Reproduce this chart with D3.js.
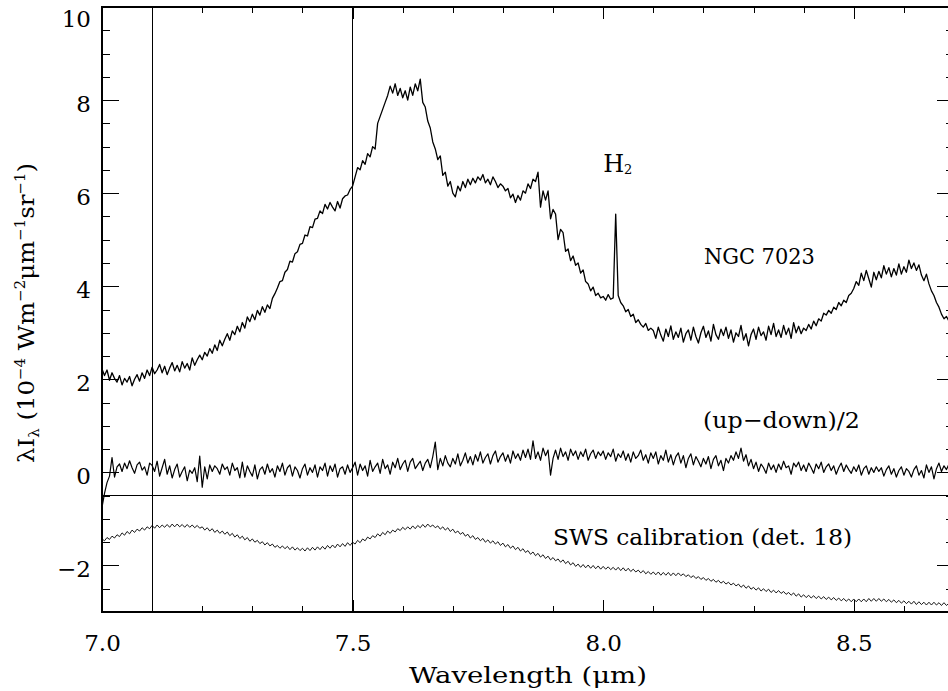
<!DOCTYPE html>
<html>
<head>
<meta charset="utf-8">
<script src="https://cdn.jsdelivr.net/npm/d3@7"></script>
<style>
  body { margin: 0; background: #fff; }
  svg { display: block; }
  text { font-family: "DejaVu Serif", serif; fill: #000; }
</style>
</head>
<body>
<svg id="chart" width="948" height="691"></svg>
<script>
// wavelength grid of the spectra (um): 7.000 ... 8.700, one value every 0.005
const wlStart = 7.0;
const wlStep = 0.005;

// NGC 7023 spectrum, 10^-4 W m^-2 um^-1 sr^-1
const ngc7023 = [
  2.22, 2.08, 2.20, 1.98, 2.14, 2.02, 1.94, 2.08, 1.88, 2.02,
  1.94, 2.06, 1.86, 2.00, 2.10, 1.96, 2.14, 2.02, 2.20, 2.08,
  2.26, 2.12, 2.20, 2.32, 2.14, 2.28, 2.10, 2.24, 2.36, 2.18,
  2.30, 2.16, 2.38, 2.24, 2.34, 2.20, 2.46, 2.30, 2.42, 2.52,
  2.42, 2.58, 2.50, 2.66, 2.56, 2.74, 2.62, 2.84, 2.72, 2.86,
  2.98, 2.84, 3.04, 2.96, 3.14, 3.02, 3.22, 3.10, 3.34, 3.24,
  3.40, 3.28, 3.48, 3.38, 3.56, 3.44, 3.60, 3.52, 3.74, 3.84,
  3.96, 4.10, 4.12, 4.30, 4.36, 4.54, 4.52, 4.70, 4.74, 4.90,
  4.92, 5.10, 5.08, 5.28, 5.26, 5.44, 5.46, 5.62, 5.56, 5.76,
  5.66, 5.80, 5.70, 5.62, 5.82, 5.68, 5.88, 5.94, 5.96, 6.08,
  6.15, 6.35, 6.55, 6.50, 6.70, 6.62, 6.85, 6.78, 7.00, 6.95,
  7.50, 7.65, 7.80, 7.95, 8.10, 8.30, 8.15, 8.35, 8.10, 8.25,
  8.05, 8.20, 8.00, 8.28, 8.10, 8.35, 8.20, 8.45, 7.95, 7.85,
  7.55, 7.40, 7.10, 6.95, 6.72, 6.80, 6.38, 6.45, 6.15, 6.25,
  6.00, 5.92, 6.15, 6.05, 6.25, 6.12, 6.30, 6.18, 6.32, 6.22,
  6.35, 6.28, 6.40, 6.22, 6.30, 6.18, 6.35, 6.25, 6.12, 6.20,
  6.15, 6.05, 6.10, 5.90, 5.98, 5.80, 5.95, 5.85, 6.05, 6.00,
  6.20, 6.10, 6.30, 6.25, 6.45, 5.70, 6.05, 5.85, 6.05, 5.45,
  5.65, 5.55, 5.00, 5.22, 5.15, 4.75, 4.80, 4.55, 4.65, 4.45,
  4.50, 4.28, 4.35, 4.10, 4.05, 3.90, 3.98, 3.80, 3.85, 3.75,
  3.78, 3.70, 3.82, 3.72, 3.75, 5.55, 3.80, 3.65, 3.58, 3.45,
  3.50, 3.35, 3.40, 3.22, 3.28, 3.18, 3.12, 3.20, 3.05, 3.10,
  3.05, 2.88, 3.12, 2.95, 2.82, 3.08, 2.92, 3.15, 2.86, 3.02,
  2.90, 3.10, 2.80, 2.98, 3.06, 2.84, 3.12, 2.92, 2.78, 3.00,
  3.14, 2.90, 3.04, 2.82, 3.18, 2.96, 2.86, 3.08, 2.94, 3.12,
  2.88, 3.06, 2.80, 3.00, 2.92, 3.16, 2.84, 2.98, 2.72, 2.96,
  3.08, 2.86, 3.12, 2.94, 3.02, 2.84, 3.14, 2.96, 3.20, 2.92,
  3.06, 2.90, 3.16, 2.96, 3.10, 2.88, 3.22, 3.00, 3.14, 2.98,
  3.10, 3.05, 3.18, 3.08, 3.25, 3.15, 3.30, 3.25, 3.42, 3.38,
  3.48, 3.42, 3.55, 3.50, 3.65, 3.58, 3.70, 3.65, 3.80, 3.85,
  3.95, 4.10, 4.02, 4.28, 4.12, 4.34, 4.16, 3.98, 4.30, 4.14,
  4.32, 4.18, 4.44, 4.26, 4.40, 4.20, 4.38, 4.24, 4.48, 4.26,
  4.42, 4.30, 4.56, 4.38, 4.50, 4.34, 4.46, 4.24, 4.12, 4.26,
  4.05, 3.90, 3.80, 3.65, 3.55, 3.40, 3.30, 3.35, 3.25, 3.30,
  3.28
];

// (up-down)/2 difference spectrum
const upDown = [
  -0.75, -0.45, -0.22, -0.08, 0.32, -0.10, 0.12, 0.18, 0.02, 0.20,
  0.08, 0.25, 0.10, -0.02, 0.16, 0.22, 0.05, 0.12, -0.06, 0.20,
  0.15, 0.02, 0.24, -0.08, 0.10, 0.28, -0.04, 0.14, -0.12, 0.06,
  0.18, -0.10, 0.02, 0.12, -0.18, 0.05, -0.02, 0.10, -0.20, 0.35,
  -0.32, 0.12, -0.14, 0.16, 0.02, 0.14, 0.08, -0.04, 0.18, 0.06,
  0.12, -0.06, 0.20, 0.04, 0.10, -0.12, 0.22, -0.10, 0.14, 0.02,
  -0.08, 0.16, -0.14, 0.06, 0.12, -0.04, 0.18, 0.00, 0.08, -0.10,
  0.14, 0.02, 0.20, -0.06, 0.10, 0.16, -0.08, 0.12, 0.04, -0.12,
  0.08, 0.18, -0.06, 0.10, 0.00, 0.16, -0.10, 0.12, 0.04, 0.20,
  -0.08, 0.14, 0.02, 0.18, -0.10, 0.08, 0.12, -0.04, 0.16, 0.00,
  0.10, 0.22, -0.06, 0.18, 0.04, 0.14, -0.08, 0.26, 0.02, 0.12,
  0.20, -0.02, 0.28, 0.08, 0.16, -0.04, 0.22, 0.10, 0.30, 0.06,
  0.18, 0.26, 0.02, 0.22, 0.30, 0.08, 0.16, 0.24, 0.04, 0.20,
  0.28, 0.10, 0.34, 0.65, 0.06, 0.30, 0.14, 0.36, 0.20, 0.12,
  0.30, 0.18, 0.40, 0.14, 0.26, 0.42, 0.20, 0.34, 0.16, 0.38,
  0.24, 0.44, 0.20, 0.32, 0.40, 0.18, 0.36, 0.46, 0.22, 0.34,
  0.42, 0.24, 0.38, 0.20, 0.46, 0.30, 0.40, 0.26, 0.48, 0.32,
  0.50, 0.28, 0.68, 0.30, 0.44, 0.26, 0.52, 0.36, 0.48, -0.06,
  0.30, 0.48, 0.28, 0.52, 0.34, 0.44, 0.26, 0.50, 0.36, 0.46,
  0.28, 0.44, 0.34, 0.50, 0.26, 0.40, 0.48, 0.30, 0.44, 0.36,
  0.46, 0.28, 0.42, 0.34, 0.50, 0.24, 0.40, 0.32, 0.46, 0.26,
  0.40, 0.22, 0.44, 0.30, 0.36, 0.48, 0.26, 0.38, 0.20, 0.42,
  0.30, 0.44, 0.18, 0.36, 0.26, 0.48, 0.22, 0.38, 0.16, 0.34,
  0.42, 0.20, 0.36, 0.10, 0.30, 0.40, 0.16, 0.34, 0.24, 0.12,
  0.30, 0.18, 0.34, 0.08, 0.28, 0.36, 0.14, 0.26, 0.04, 0.30,
  0.20, 0.36, 0.26, 0.44, 0.30, 0.52, 0.24, 0.38, 0.14, 0.28,
  0.08, 0.22, 0.02, 0.18, 0.10, -0.02, 0.20, 0.06, 0.16, 0.00,
  0.18, 0.06, 0.24, 0.10, 0.14, -0.04, 0.20, 0.12, 0.22, 0.04,
  0.16, 0.02, 0.20, 0.10, -0.02, 0.18, 0.08, 0.22, 0.00, 0.12,
  0.18, 0.04, 0.14, -0.04, 0.10, 0.20, 0.02, 0.16, 0.06, -0.02,
  0.12, 0.02, 0.16, -0.06, 0.08, 0.14, -0.04, 0.10, 0.00, 0.12,
  0.02, 0.10, -0.08, 0.06, 0.14, -0.04, 0.08, -0.10, 0.04, 0.12,
  -0.06, 0.08, 0.02, -0.10, 0.06, 0.14, -0.06, 0.04, -0.12, 0.16,
  0.00, 0.12, -0.14, 0.08, 0.20, 0.02, 0.14, 0.06, 0.18, 0.04,
  0.10
];

// SWS calibration (det. 18), shifted and scaled as in the plot
const swsCal = [
  -1.43, -1.47, -1.40, -1.44, -1.37, -1.41, -1.34, -1.38, -1.30, -1.35,
  -1.27, -1.32, -1.24, -1.29, -1.22, -1.26, -1.19, -1.24, -1.17, -1.21,
  -1.14, -1.20, -1.13, -1.19, -1.13, -1.18, -1.12, -1.18, -1.11, -1.17,
  -1.11, -1.17, -1.12, -1.18, -1.12, -1.18, -1.13, -1.19, -1.14, -1.20,
  -1.17, -1.24, -1.19, -1.26, -1.21, -1.29, -1.24, -1.31, -1.26, -1.33,
  -1.28, -1.36, -1.31, -1.39, -1.34, -1.42, -1.37, -1.45, -1.40, -1.48,
  -1.43, -1.50, -1.46, -1.53, -1.49, -1.56, -1.51, -1.58, -1.54, -1.61,
  -1.57, -1.63, -1.58, -1.64, -1.59, -1.66, -1.60, -1.67, -1.62, -1.68,
  -1.63, -1.69, -1.62, -1.68, -1.61, -1.67, -1.60, -1.66, -1.59, -1.65,
  -1.57, -1.63, -1.56, -1.62, -1.54, -1.60, -1.53, -1.59, -1.51, -1.57,
  -1.50, -1.54, -1.46, -1.51, -1.43, -1.47, -1.39, -1.43, -1.36, -1.40,
  -1.32, -1.37, -1.29, -1.34, -1.26, -1.31, -1.24, -1.28, -1.21, -1.25,
  -1.18, -1.23, -1.17, -1.22, -1.15, -1.21, -1.14, -1.19, -1.12, -1.18,
  -1.11, -1.17, -1.13, -1.19, -1.15, -1.22, -1.17, -1.24, -1.19, -1.27,
  -1.22, -1.30, -1.26, -1.33, -1.29, -1.37, -1.33, -1.41, -1.36, -1.44,
  -1.40, -1.47, -1.42, -1.50, -1.45, -1.52, -1.47, -1.54, -1.49, -1.57,
  -1.52, -1.60, -1.55, -1.63, -1.58, -1.66, -1.61, -1.69, -1.64, -1.72,
  -1.68, -1.76, -1.71, -1.79, -1.74, -1.82, -1.77, -1.85, -1.80, -1.88,
  -1.83, -1.90, -1.86, -1.93, -1.88, -1.96, -1.91, -1.99, -1.94, -2.02,
  -1.97, -2.04, -1.98, -2.05, -1.99, -2.06, -2.00, -2.07, -2.01, -2.08,
  -2.02, -2.08, -2.03, -2.09, -2.04, -2.10, -2.04, -2.11, -2.05, -2.12,
  -2.06, -2.13, -2.08, -2.14, -2.10, -2.16, -2.11, -2.18, -2.13, -2.19,
  -2.14, -2.20, -2.14, -2.21, -2.15, -2.21, -2.15, -2.22, -2.16, -2.22,
  -2.16, -2.22, -2.18, -2.24, -2.20, -2.26, -2.22, -2.28, -2.24, -2.30,
  -2.26, -2.32, -2.28, -2.34, -2.30, -2.36, -2.32, -2.38, -2.34, -2.40,
  -2.36, -2.42, -2.38, -2.44, -2.40, -2.47, -2.42, -2.49, -2.44, -2.51,
  -2.47, -2.53, -2.48, -2.55, -2.50, -2.56, -2.51, -2.58, -2.53, -2.59,
  -2.54, -2.60, -2.56, -2.62, -2.58, -2.64, -2.59, -2.66, -2.61, -2.68,
  -2.63, -2.69, -2.64, -2.70, -2.65, -2.71, -2.66, -2.72, -2.67, -2.73,
  -2.68, -2.74, -2.69, -2.75, -2.70, -2.76, -2.71, -2.77, -2.72, -2.78,
  -2.72, -2.78, -2.72, -2.78, -2.72, -2.78, -2.71, -2.77, -2.71, -2.77,
  -2.71, -2.77, -2.72, -2.78, -2.73, -2.79, -2.74, -2.80, -2.75, -2.81,
  -2.76, -2.82, -2.77, -2.83, -2.77, -2.84, -2.78, -2.84, -2.79, -2.85,
  -2.79, -2.85, -2.79, -2.85, -2.80, -2.86, -2.80, -2.86, -2.81, -2.87,
  -2.84
];

// reference markers drawn across the frame
const markerWavelengths = [7.1, 7.5];
const zeroLevel = -0.5;

// text annotations: [wavelength, value] of the text's left baseline
const notes = [
  { text: 'NGC 7023', wl: 8.201, val: 4.47, len: 111 },
  { text: '(up\u2212down)/2', wl: 8.199, val: 0.95, len: 157 },
  { text: 'SWS calibration (det. 18)', wl: 7.90, val: -1.55, len: 299 }
];
const h2Note = { wl: 8.0, val: 6.45 };

const width = 948, height = 691;
const svg = d3.select('#chart');
svg.append('rect').attr('width', width).attr('height', height).attr('fill', '#fff');

const x = d3.scaleLinear().domain([7.0, 8.7]).range([102, 954]);
const y = d3.scaleLinear().domain([-3, 10]).range([612, 7]);

const fmtX = d3.format('.1f');
const fmtY = d3.format('d');

function styleAxis(g) {
    g.select('.domain').remove();
    g.selectAll('line').attr('stroke', '#000').attr('shape-rendering', 'crispEdges');
    g.attr('font-family', null).attr('font-size', null);
}

// bottom axis
svg.append('g').attr('transform', `translate(0,${y(-3)})`)
    .call(d3.axisBottom(x).tickValues(x.ticks(17)).tickSize(-6).tickFormat(''))
    .call(styleAxis);
const xb = svg.append('g').attr('transform', `translate(0,${y(-3)})`)
    .call(d3.axisBottom(x).tickValues(x.ticks(4)).tickSize(-12).tickFormat(fmtX))
    .call(styleAxis);
xb.selectAll('text').attr('y', 39).attr('dy', null).attr('font-size', 23);

// top axis
svg.append('g').attr('transform', `translate(0,${y(10)})`)
    .call(d3.axisTop(x).tickValues(x.ticks(17)).tickSize(-6).tickFormat(''))
    .call(styleAxis);
svg.append('g').attr('transform', `translate(0,${y(10)})`)
    .call(d3.axisTop(x).tickValues(x.ticks(4)).tickSize(-12).tickFormat(''))
    .call(styleAxis);

// left axis
svg.append('g').attr('transform', `translate(${x(7.0)},0)`)
    .call(d3.axisLeft(y).tickValues(y.ticks(26)).tickSize(-8).tickFormat(''))
    .call(styleAxis);
const yl = svg.append('g').attr('transform', `translate(${x(7.0)},0)`)
    .call(d3.axisLeft(y).tickValues(y.ticks(6)).tickSize(-17).tickFormat(fmtY))
    .call(styleAxis);
yl.selectAll('text')
    .attr('x', -11)
    .attr('dy', null)
    .attr('y', d => d === 10 ? 19 : 11.5)
    .attr('font-size', 23);

// right axis
svg.append('g').attr('transform', `translate(${x(8.7)},0)`)
    .call(d3.axisRight(y).tickValues(y.ticks(26)).tickSize(-8).tickFormat(''))
    .call(styleAxis);
svg.append('g').attr('transform', `translate(${x(8.7)},0)`)
    .call(d3.axisRight(y).tickValues(y.ticks(6)).tickSize(-17).tickFormat(''))
    .call(styleAxis);

// frame
svg.append('rect')
    .attr('x', x(7.0)).attr('y', y(10))
    .attr('width', x(8.7) - x(7.0)).attr('height', y(-3) - y(10))
    .attr('fill', 'none').attr('stroke', '#000').attr('stroke-width', 1.2)
    .attr('shape-rendering', 'crispEdges');

// marker lines
svg.append('g').selectAll('line').data(markerWavelengths).join('line')
    .attr('x1', d => x(d)).attr('x2', d => x(d))
    .attr('y1', y(10)).attr('y2', y(-3))
    .attr('stroke', '#000').attr('shape-rendering', 'crispEdges');
svg.append('line')
    .attr('x1', x(7.0)).attr('x2', x(8.7))
    .attr('y1', y(zeroLevel)).attr('y2', y(zeroLevel))
    .attr('stroke', '#000').attr('shape-rendering', 'crispEdges');

// spectra
svg.append('clipPath').attr('id', 'plot-clip').append('rect')
    .attr('x', x(7.0)).attr('y', y(10))
    .attr('width', x(8.7) - x(7.0)).attr('height', y(-3) - y(10));

const line = d3.line()
    .x((d, i) => x(wlStart + i * wlStep))
    .y(d => y(d));

const spectra = [
    { values: ngc7023, width: 1.3 },
    { values: upDown, width: 1.2 },
    { values: swsCal, width: 0.9 }
];
svg.append('g').attr('clip-path', 'url(#plot-clip)')
    .selectAll('path').data(spectra).join('path')
    .attr('d', d => line(d.values))
    .attr('fill', 'none')
    .attr('stroke', '#000')
    .attr('stroke-width', d => d.width)
    .attr('stroke-linejoin', 'round');

// annotations
svg.append('g').selectAll('text').data(notes).join('text')
    .attr('x', d => x(d.wl)).attr('y', d => y(d.val))
    .attr('font-size', 23)
    .attr('textLength', d => d.len)
    .attr('lengthAdjust', 'spacingAndGlyphs')
    .text(d => d.text);

const h2 = svg.append('text')
    .attr('x', x(h2Note.wl)).attr('y', y(h2Note.val))
    .attr('font-size', 24);
h2.append('tspan').text('H');
h2.append('tspan').attr('font-size', 13).attr('dy', 2).text('2');

// axis titles
svg.append('text')
    .attr('x', (x(7.0) + x(8.7)) / 2).attr('y', 683)
    .attr('text-anchor', 'middle').attr('font-size', 23)
    .attr('textLength', 238).attr('lengthAdjust', 'spacingAndGlyphs')
    .text('Wavelength (\u03bcm)');

const yTitle = svg.append('text')
    .attr('transform', 'translate(34,313) rotate(-90)')
    .attr('text-anchor', 'middle').attr('font-size', 23)
    .attr('textLength', 300).attr('lengthAdjust', 'spacingAndGlyphs');
const parts = [
    ['\u03bbI', 0, null], ['\u03bb', 5, 14], [' (10', -5, null], ['\u22124', -9, 14],
    [' Wm', 9, null], ['\u22122', -9, 14], ['\u03bcm', 9, null], ['\u22121', -9, 14],
    ['sr', 9, null], ['\u22121', -9, 14], [')', 9, null]
];
parts.forEach(([t, dy, fs]) => {
    const ts = yTitle.append('tspan').attr('dy', dy).text(t);
    if (fs) ts.attr('font-size', fs);
});
</script>
</body>
</html>
